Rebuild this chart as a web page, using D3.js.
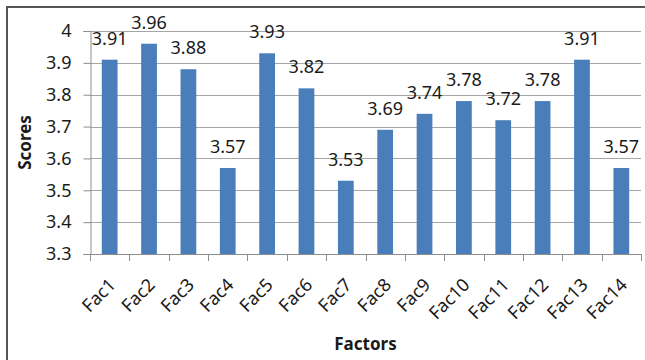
<!DOCTYPE html>
<html>
<head>
<meta charset="utf-8">
<script src="https://cdn.jsdelivr.net/npm/d3@7"></script>
<style>
  html, body { margin: 0; padding: 0; background: #fff; }
  svg { display: block; }
  text { font-family: "Noto Sans", "Open Sans", sans-serif; fill: #1a1a1a; }
</style>
</head>
<body>
<svg id="chart" width="645" height="360"></svg>
<script>
// Mean score per factor
const categories = ["Fac1","Fac2","Fac3","Fac4","Fac5","Fac6","Fac7","Fac8","Fac9","Fac10","Fac11","Fac12","Fac13","Fac14"];
const scores = [3.91, 3.96, 3.88, 3.57, 3.93, 3.82, 3.53, 3.69, 3.74, 3.78, 3.72, 3.78, 3.91, 3.57];
const yTicks = [3.3, 3.4, 3.5, 3.6, 3.7, 3.8, 3.9, 4];
const yTitle = "Scores";
const xTitle = "Factors";

const W = 645, H = 360;
const margin = { top: 31, right: 4, bottom: 106, left: 90 };
const svg = d3.select("#chart");

// frame around the chart area
svg.append("path")
  .attr("d", `M7,${H} L7,7 L${W},7`)
  .attr("fill", "none").attr("stroke", "#555").attr("stroke-width", 2);

const x = d3.scaleBand().domain(categories)
  .range([margin.left, W - margin.right]).paddingInner(0.6).paddingOuter(0.3);
const y = d3.scaleLinear().domain([3.3, 4]).range([H - margin.bottom, margin.top]);
const step = x.step();
const x0 = margin.left, x1 = W - margin.right;

// horizontal gridlines
svg.append("g").selectAll("line").data(yTicks.filter(d => d > 3.3)).join("line")
  .attr("x1", x0).attr("x2", x1)
  .attr("y1", d => Math.round(y(d)) + 0.5).attr("y2", d => Math.round(y(d)) + 0.5)
  .attr("stroke", "#a6a6a6").attr("stroke-width", 1);

// bars
svg.append("g").selectAll("rect").data(categories).join("rect")
  .attr("x", d => x(d))
  .attr("width", x.bandwidth())
  .attr("y", (d, i) => y(scores[i]))
  .attr("height", (d, i) => y(3.3) - y(scores[i]))
  .attr("fill", "#4a7ebb");

// y axis
const yAxis = d3.axisLeft(y).tickValues(yTicks).tickSize(7).tickPadding(12)
  .tickFormat(d => d3.format("~g")(d));
const gy = svg.append("g").attr("transform", `translate(${x0 + 0.5},0)`).call(yAxis);
gy.select(".domain").attr("stroke", "#8c8c8c");
gy.selectAll(".tick line").attr("stroke", "#8c8c8c");
gy.selectAll(".tick text").style("font-size", "18px").attr("fill", "#1a1a1a");

// x axis baseline with boundary ticks
const gx = svg.append("g");
gx.append("line").attr("x1", x0).attr("x2", x1)
  .attr("y1", y(3.3) + 0.5).attr("y2", y(3.3) + 0.5).attr("stroke", "#8c8c8c");
gx.selectAll("line.tk").data(d3.range(categories.length + 1)).join("line")
  .attr("class", "tk")
  .attr("x1", i => Math.round(x0 + i * step) + 0.5).attr("x2", i => Math.round(x0 + i * step) + 0.5)
  .attr("y1", y(3.3)).attr("y2", y(3.3) + 7).attr("stroke", "#8c8c8c");

// rotated category labels
svg.append("g").selectAll("text").data(categories).join("text")
  .attr("transform", d => `translate(${x(d) + x.bandwidth() / 2 + 7},${y(3.3) + 32}) rotate(-45)`)
  .attr("text-anchor", "end")
  .style("font-size", "18px")
  .text(d => d);

// value labels above bars
svg.append("g").selectAll("text").data(categories).join("text")
  .attr("x", d => x(d) + x.bandwidth() / 2)
  .attr("y", (d, i) => y(scores[i]) - 15)
  .attr("text-anchor", "middle")
  .style("font-size", "18px")
  .text((d, i) => d3.format(".2f")(scores[i]));

// axis titles
svg.append("text")
  .attr("transform", `translate(31,${(margin.top + H - margin.bottom) / 2}) rotate(-90)`)
  .attr("text-anchor", "middle")
  .style("font-size", "17px").style("font-weight", "bold")
  .text(yTitle);
svg.append("text")
  .attr("x", (x0 + x1) / 2).attr("y", 350)
  .attr("text-anchor", "middle")
  .style("font-size", "17px").style("font-weight", "bold")
  .text(xTitle);
</script>
</body>
</html>
